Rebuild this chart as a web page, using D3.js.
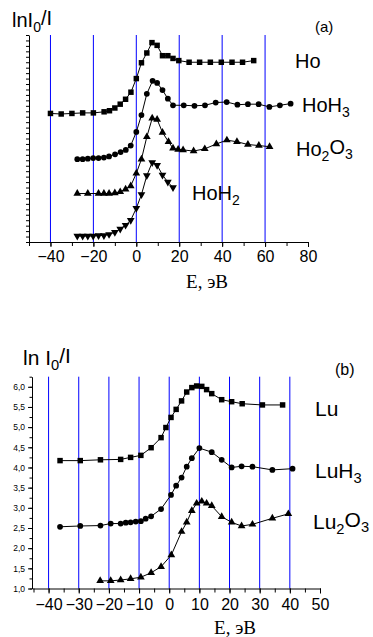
<!DOCTYPE html>
<html>
<head>
<meta charset="utf-8">
<script src="https://cdn.jsdelivr.net/npm/d3@7"></script>
<style>
  body { margin: 0; background: #fff; }
  svg { display: block; }
  text { font-family: "Liberation Sans", Arial, sans-serif; fill: #000; }
</style>
</head>
<body>
<div id="chart"></div>
<script>
// (a) Ho compounds, [E, ln I0/I] (arbitrary y units, no labels)
const ho = [[-40, 2.36], [-35, 2.35], [-30, 2.36], [-25, 2.37], [-20, 2.37], [-15, 2.39], [-12.5, 2.41],
  [-10, 2.46], [-7.5, 2.53], [-5, 2.62], [-2.5, 2.75], [0, 3.0], [2.4, 3.29], [4.9, 3.47], [7.3, 3.66],
  [9.7, 3.61], [12.2, 3.42], [14.7, 3.42], [17.1, 3.37], [19.8, 3.33], [24.6, 3.30], [29.5, 3.30],
  [34.5, 3.30], [39.6, 3.30], [44.6, 3.30], [49.5, 3.30], [54.7, 3.33]];
const hoH3 = [[-27.5, 1.52], [-25, 1.52], [-22.6, 1.53], [-20.1, 1.54], [-17.6, 1.54], [-15.1, 1.55],
  [-12.7, 1.57], [-9.9, 1.61], [-7.3, 1.65], [-4.9, 1.69], [-2.6, 1.77], [0, 2.02], [2.4, 2.33],
  [4.9, 2.72], [7.6, 2.96], [9.7, 2.92], [12.2, 2.79], [14.7, 2.63], [17.1, 2.51], [22.1, 2.51],
  [27.1, 2.50], [32, 2.51], [37, 2.56], [42.1, 2.57], [47.1, 2.52], [52, 2.53], [57, 2.53],
  [62, 2.48], [66.9, 2.51], [71.9, 2.54]];
const ho2O3 = [[-27.5, 0.89], [-22.6, 0.89], [-17.6, 0.89], [-15.1, 0.89], [-12.7, 0.89], [-10, 0.90],
  [-7.5, 0.92], [-5, 0.97], [-2.6, 1.03], [0, 1.26], [2.4, 1.52], [4.9, 1.93], [7.4, 2.27], [9.7, 2.25],
  [12.2, 2.01], [15, 1.84], [17.1, 1.72], [19.5, 1.70], [21.8, 1.69], [26.7, 1.67], [31.9, 1.71],
  [37.3, 1.80], [42.2, 1.87], [46.9, 1.84], [52, 1.79], [57.1, 1.77], [62.1, 1.75]];
const hoH2 = [[-27.5, 0.11], [-25, 0.11], [-22.6, 0.11], [-20.1, 0.11], [-17.6, 0.12], [-15.1, 0.12],
  [-12.7, 0.14], [-10, 0.18], [-7.5, 0.24], [-5, 0.31], [-2.6, 0.40], [0, 0.62], [2.4, 0.87],
  [4.9, 1.22], [7.4, 1.46], [9.7, 1.41], [12.2, 1.23], [14.7, 1.10], [17.1, 1.00]];
const ticksA = [-40, -20, 0, 20, 40, 60, 80];
const gridA = [-40, -20, 0, 20, 40, 60];

// (b) Lu compounds
const lu = [[-36.2, 4.17], [-29.5, 4.17], [-22.8, 4.19], [-16.1, 4.20], [-12.8, 4.25], [-9.4, 4.30],
  [-6.0, 4.49], [-2.7, 4.74], [-1.1, 4.99], [0.6, 5.24], [2.3, 5.44], [4.1, 5.65], [5.8, 5.87],
  [7.5, 5.98], [9.1, 6.02], [10.8, 6.01], [12.4, 5.93], [14.1, 5.83], [17.4, 5.68], [20.7, 5.63],
  [24.2, 5.58], [30.9, 5.55], [37.6, 5.55]];
const luH3 = [[-36.2, 2.53], [-29.5, 2.55], [-22.8, 2.56], [-19.4, 2.61], [-16.1, 2.61], [-14.4, 2.63],
  [-12.8, 2.64], [-11.1, 2.66], [-9.4, 2.67], [-7.8, 2.73], [-6.0, 2.79], [-2.7, 2.97], [0.6, 3.32],
  [2.3, 3.55], [4.1, 3.75], [5.8, 4.02], [7.5, 4.23], [10.0, 4.48], [14.1, 4.38], [17.4, 4.19],
  [20.7, 4.00], [24.0, 4.03], [27.6, 4.02], [34.2, 3.94], [40.9, 3.97]];
const lu2O3 = [[-22.9, 1.19], [-19.4, 1.19], [-16.1, 1.21], [-12.8, 1.24], [-9.4, 1.28], [-6.0, 1.39],
  [-2.7, 1.54], [0.7, 1.83], [4.1, 2.41], [5.8, 2.64], [7.5, 2.93], [9.1, 3.11], [10.8, 3.16],
  [12.4, 3.11], [14.1, 3.05], [17.4, 2.78], [20.7, 2.64], [24.0, 2.55], [27.6, 2.59], [34.2, 2.74],
  [39.5, 2.85]];
const ticksB = [-40, -30, -20, -10, 0, 10, 20, 30, 40, 50];
const gridB = [-40, -30, -20, -10, 0, 10, 20, 30, 40];
const yTicksB = [1, 1.5, 2, 2.5, 3, 3.5, 4, 4.5, 5, 5.5, 6];

const svg = d3.select('#chart').append('svg')
  .attr('width', 373).attr('height', 637);
svg.append('rect').attr('width', 373).attr('height', 637).attr('fill', '#fff');

function drawSeries(g, x, y, data, symbolType, rotate, size) {
  const line = d3.line().x(d => x(d[0])).y(d => y(d[1]));
  g.append('path').datum(data)
    .attr('d', line).attr('fill', 'none').attr('stroke', '#000').attr('stroke-width', 1);
  const sym = d3.symbol().type(symbolType).size(size);
  g.selectAll(null).data(data).enter().append('path')
    .attr('d', sym)
    .attr('fill', '#000')
    .attr('transform', d => `translate(${x(d[0])},${y(d[1])})` + (rotate ? ' rotate(180)' : ''));
}

function styleAxis(ax) {
  ax.selectAll('path, line').attr('stroke', '#000').attr('stroke-width', 1);
}

function sub(t, parts) {
  // parts: [text, isSub]
  parts.forEach(p => {
    t.append('tspan')
      .attr('font-size', p[1] ? '0.7em' : null)
      .attr('dy', p[1] ? '0.35em' : (p[2] ? '-0.35em' : null))
      .text(p[0]);
  });
}

// ---------- chart (a) ----------
const xA = d3.scaleLinear().domain([-50, 80]).range([29, 308]);
const yA = d3.scaleLinear().domain([0, 3.8]).range([242, 35]);
const gA = svg.append('g');

gA.selectAll('.grid').data(gridA).enter().append('line')
  .attr('x1', d => xA(d)).attr('x2', d => xA(d))
  .attr('y1', yA(3.8)).attr('y2', yA(0))
  .attr('stroke', '#0000ff').attr('stroke-width', 1);

const xAxA = gA.append('g').attr('transform', `translate(0,${yA(0)})`)
  .call(d3.axisBottom(xA).tickValues(d3.range(-50, 81, 10)).tickSize(4).tickSizeOuter(0).tickFormat(''));
styleAxis(xAxA);
const xLabA = gA.append('g').attr('transform', `translate(0,${yA(0)})`)
  .call(d3.axisBottom(xA).tickValues(ticksA).tickSize(5).tickSizeOuter(0));
styleAxis(xLabA);
xLabA.select('.domain').remove();
xLabA.selectAll('text').attr('y', 20).attr('dy', null)
  .attr('font-size', 16).attr('font-family', '"Liberation Sans", Arial, sans-serif');

const yAxA = gA.append('g').attr('transform', `translate(${xA(-50)},0)`)
  .call(d3.axisLeft(yA).tickValues(d3.range(0, 3.81, 0.1)).tickSize(3).tickSizeOuter(0).tickFormat(''));
styleAxis(yAxA);

drawSeries(gA, xA, yA, ho, d3.symbolSquare, false, 30);
drawSeries(gA, xA, yA, hoH3, d3.symbolCircle, false, 26);
drawSeries(gA, xA, yA, ho2O3, d3.symbolTriangle, false, 26);
drawSeries(gA, xA, yA, hoH2, d3.symbolTriangle, true, 26);

sub(gA.append('text').attr('x', 12).attr('y', 27).attr('font-size', 20),
  [['lnI'], ['0', true], ['/I', false, true]]);
gA.append('text').attr('x', 315).attr('y', 32).attr('font-size', 15).text('(a)');
gA.append('text').attr('x', 295).attr('y', 68).attr('font-size', 20).text('Ho');
sub(gA.append('text').attr('x', 302).attr('y', 112).attr('font-size', 20),
  [['HoH'], ['3', true]]);
sub(gA.append('text').attr('x', 296).attr('y', 156).attr('font-size', 20),
  [['Ho'], ['2', true], ['O', false, true], ['3', true]]);
sub(gA.append('text').attr('x', 192).attr('y', 200).attr('font-size', 20),
  [['HoH'], ['2', true]]);
gA.append('text').attr('x', 207).attr('y', 288).attr('text-anchor', 'middle')
  .attr('font-size', 19).style('font-family', '"Liberation Serif", "Times New Roman", serif')
  .text('E, эВ');

// ---------- chart (b) ----------
const xB = d3.scaleLinear().domain([-45.5, 50]).range([32, 320]);
const yB = d3.scaleLinear().domain([1, 6.25]).range([588.5, 376.7]);
const gB = svg.append('g');

gB.selectAll('.grid').data(gridB).enter().append('line')
  .attr('x1', d => xB(d)).attr('x2', d => xB(d))
  .attr('y1', yB(6.25)).attr('y2', yB(1))
  .attr('stroke', '#0000ff').attr('stroke-width', 1);

const xAxB = gB.append('g').attr('transform', `translate(0,${yB(1)})`)
  .call(d3.axisBottom(xB).tickValues(d3.range(-45, 51, 5)).tickSize(4).tickSizeOuter(0).tickFormat(''));
styleAxis(xAxB);
const xLabB = gB.append('g').attr('transform', `translate(0,${yB(1)})`)
  .call(d3.axisBottom(xB).tickValues(ticksB).tickSize(5).tickSizeOuter(0));
styleAxis(xLabB);
xLabB.select('.domain').remove();
xLabB.selectAll('text').attr('y', 21).attr('dy', null)
  .attr('font-size', 16).attr('font-family', '"Liberation Sans", Arial, sans-serif');

const yMinB = gB.append('g').attr('transform', `translate(${xB(-45.5)},0)`)
  .call(d3.axisLeft(yB).tickValues(d3.range(1, 6.26, 0.25)).tickSize(2.5).tickSizeOuter(0).tickFormat(''));
styleAxis(yMinB);
const yAxB = gB.append('g').attr('transform', `translate(${xB(-45.5)},0)`)
  .call(d3.axisLeft(yB).tickValues(yTicksB).tickSize(4).tickSizeOuter(0)
    .tickFormat(d => d3.format('.1f')(d).replace('.', ',')));
styleAxis(yAxB);
yAxB.select('.domain').remove();
yAxB.selectAll('text').attr('font-size', 8.5).attr('x', -7)
  .attr('font-family', '"Liberation Sans", Arial, sans-serif');

drawSeries(gB, xB, yB, lu, d3.symbolSquare, false, 30);
drawSeries(gB, xB, yB, luH3, d3.symbolCircle, false, 26);
drawSeries(gB, xB, yB, lu2O3, d3.symbolTriangle, false, 26);

sub(gB.append('text').attr('x', 23).attr('y', 365).attr('font-size', 21),
  [['ln I'], ['0', true], ['/I', false, true]]);
gB.append('text').attr('x', 335).attr('y', 375).attr('font-size', 16).text('(b)');
gB.append('text').attr('x', 315).attr('y', 416).attr('font-size', 21).text('Lu');
sub(gB.append('text').attr('x', 315).attr('y', 478).attr('font-size', 21),
  [['LuH'], ['3', true]]);
sub(gB.append('text').attr('x', 313).attr('y', 529).attr('font-size', 21),
  [['Lu'], ['2', true], ['O', false, true], ['3', true]]);
gB.append('text').attr('x', 235).attr('y', 634).attr('text-anchor', 'middle')
  .attr('font-size', 19).style('font-family', '"Liberation Serif", "Times New Roman", serif')
  .text('E, эВ');
</script>
</body>
</html>
